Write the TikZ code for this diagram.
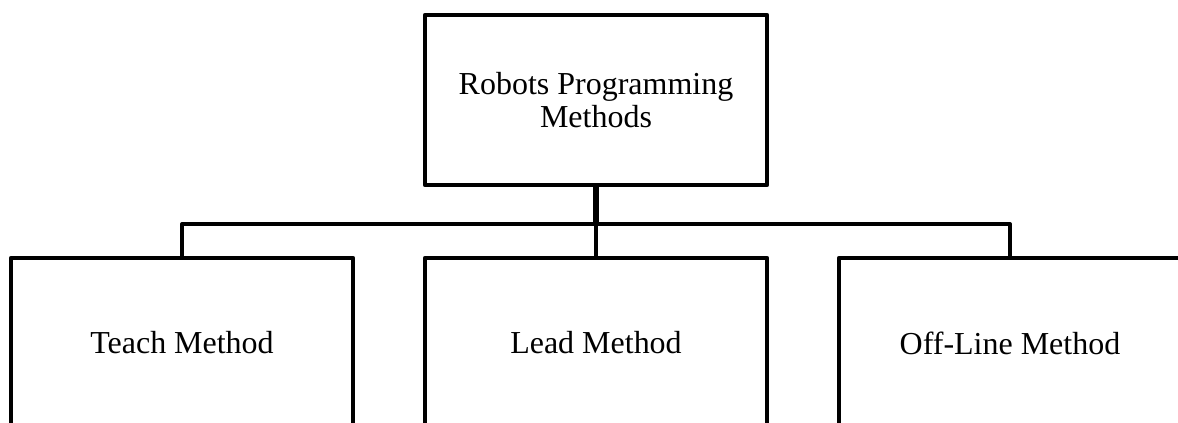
\documentclass[tikz,border=0pt]{standalone}
\usepackage{fontspec}
\setmainfont{Liberation Serif}
\begin{document}
\begin{tikzpicture}[
    box/.style={draw, line width=2.6pt, line join=round, minimum width=6.84cm,
      minimum height=3.4cm, align=center, inner sep=0pt,
      font=\fontsize{18.2}{18.8}\selectfont},
    link/.style={line width=2.4pt, line join=round}]
  % Marco del dibujo
  \clip (0,0) rectangle (23.56,-8.46);
  % Cajas
  \node[box] (prog) at (11.92,-2.0) {Robots Programming\\Methods};
  \node[box] (teach) at (3.64,-6.86) {Teach Method};
  \node[box] (lead) at (11.92,-6.86) {Lead Method};
  \node[box] (offline) at (20.2,-6.86) {Off-Line Method};
  % Conectores
  \draw[link, line width=3pt] (prog.south) -- ++(0,-0.74) coordinate (bus);
  \draw[link] (teach.north) |- (bus) -| (offline.north);
  \draw[link] (bus) -- (lead.north);
\end{tikzpicture}
\end{document}
